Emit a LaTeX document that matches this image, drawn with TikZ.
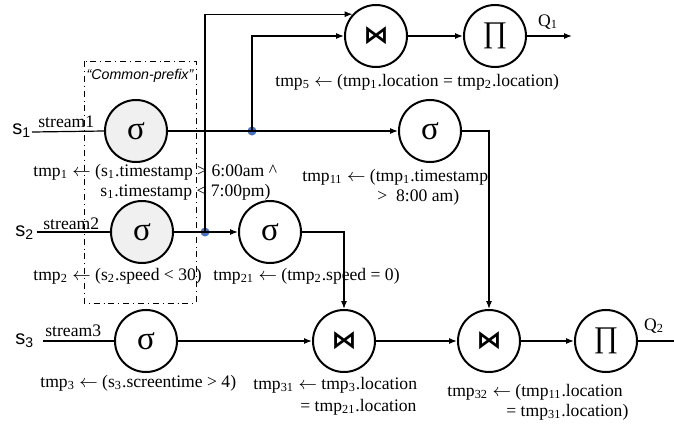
\documentclass[tikz,border=0pt]{standalone}
\usepackage{fontspec}
\setmainfont{Liberation Serif}
\newfontfamily\arialf{Liberation Sans}
\newfontfamily\djv{DejaVu Sans}
\usetikzlibrary{arrows.meta}
\newcommand{\sbs}[1]{\textsubscript{#1}}
\newcommand{\larr}{\ensuremath{\leftarrow}}
\definecolor{dotblue}{HTML}{4472C4}
\definecolor{opgray}{HTML}{F0F0F0}
\begin{document}
\begin{tikzpicture}[x=0.5pt,y=-0.5pt,
  op/.style={circle,draw,line width=1pt,minimum size=31pt,inner sep=0pt},
  opf/.style={op,fill=opgray},
  sig/.style={font=\fontsize{16.5}{16}\selectfont},
  joinop/.style={font=\djv\bfseries\fontsize{12.5}{12}\selectfont},
  proj/.style={font=\fontsize{15}{15}\selectfont},
  lbl/.style={anchor=west,inner sep=0pt,font=\fontsize{8.8}{10}\selectfont},
  src/.style={anchor=west,inner sep=0pt,font=\arialf\fontsize{10}{11}\selectfont},
  wire/.style={line width=0.6pt},
  arr/.style={wire,-{Latex[length=4pt,width=3pt]}},
  bdot/.style={circle,fill=dotblue,inner sep=0pt,minimum size=4.5pt},
  prefixbox/.style={draw,dash dot,line width=0.5pt}]
\useasboundingbox (0,0) rectangle (674,424);

% common prefix box
\draw[prefixbox] (84,61) rectangle (196,303);
\node[inner sep=0pt,font=\arialf\itshape\fontsize{7.1}{8}\selectfont] (cp) at (140,76) {“Common-prefix”};

% operators
\node[opf,sig] (s1) at (136,131) {σ};
\node[opf,sig] (s2) at (142,232) {σ};
\node[op,sig] (s21) at (270,232) {σ};
\node[op,sig] (s3) at (146,341) {σ};
\node[op,sig] (s11) at (430,131) {σ};
\node[op,joinop] (j5) at (376,36) {⋈};
\node[op,proj] (p1) at (495,36) {∏};
\node[op,joinop] (j31) at (344,341) {⋈};
\node[op,joinop] (j32) at (489,341) {⋈};
\node[op,proj] (p2) at (606,341) {∏};

% sources
\node[src] (l1) at (12,131) {s\sbs{1}};
\node[src] (l2) at (15,233) {s\sbs{2}};
\node[src] (l3) at (15,341) {s\sbs{3}};
\coordinate (i1) at (32,132);
\coordinate (i2) at (37,232);
\coordinate (i3) at (43,341);
\node[lbl] (st1) at (38,122) {stream1};
\node[lbl] (st2) at (43,224) {stream2};
\node[lbl] (st3) at (45,331) {stream3};
\draw[wire] (i1) -- (s1.west);
\draw[wire] (i2) -- (s2);
\draw[wire] (i3) -- (s3);

% branch dots
\node[bdot] (d1) at (252,131) {};
\node[bdot] (d2) at (205,232) {};

% connectors
\draw[arr] (s1) -- (s11);
\draw[arr] (s2) -- (s21);
\draw[arr] (d1.center) |- (j5.west);
\draw[arr] (d2.center) |- (j5.137);
\draw[arr] (j5) -- (p1);
\coordinate (q1) at (572,36);
\draw[arr] (p1) -- (q1);
\node[lbl,anchor=center] (Q1) at (548,22) {Q\sbs{1}};
\draw[arr] (s11.east) -| (j32.north);
\draw[arr] (s21.east) -| (j31.north);
\draw[arr] (s3) -- (j31);
\draw[arr] (j31) -- (j32);
\draw[arr] (j32) -- (p2);
\coordinate (q2) at (674,341);
\draw[wire] (p2) -- (q2);
\node[lbl,anchor=center] (Q2) at (654,326) {Q\sbs{2}};

% predicate labels
\node[lbl] (t5) at (275,82) {tmp\sbs{5} \larr{} (tmp\sbs{1}.location = tmp\sbs{2}.location)};
\node[lbl] (t1a) at (33,172) {tmp\sbs{1} \larr{} (s\sbs{1}.timestamp > 6:00am \textasciicircum};
\node[lbl] (t1b) at (100,192) {s\sbs{1}.timestamp < 7:00pm)};
\node[lbl] (t11a) at (302,177) {tmp\sbs{11} \larr{} (tmp\sbs{1}.timestamp};
\node[lbl] (t11b) at (377,197) {>\ \ 8:00 am)};
\node[lbl] (t2) at (33,276) {tmp\sbs{2} \larr{} (s\sbs{2}.speed < 30)};
\node[lbl] (t21) at (213,276) {tmp\sbs{21} \larr{} (tmp\sbs{2}.speed = 0)};
\node[lbl] (t3) at (40,383) {tmp\sbs{3} \larr{} (s\sbs{3}.screentime > 4)};
\node[lbl] (t31a) at (253,385) {tmp\sbs{31} \larr{} tmp\sbs{3}.location};
\node[lbl] (t31b) at (300,407) {= tmp\sbs{21}.location};
\node[lbl] (t32a) at (447,392) {tmp\sbs{32} \larr{} (tmp\sbs{11}.location};
\node[lbl] (t32b) at (506,412) {= tmp\sbs{31}.location)};
\end{tikzpicture}
\end{document}
